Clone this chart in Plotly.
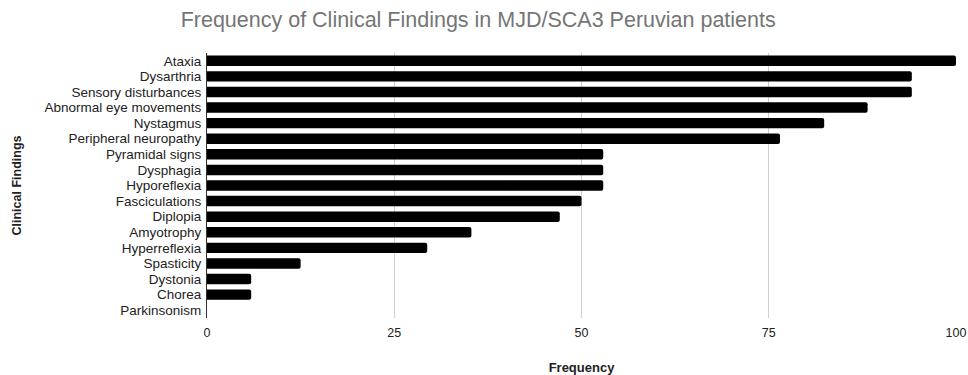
import plotly.graph_objects as go

findings = ["Ataxia", "Dysarthria", "Sensory disturbances", "Abnormal eye movements",
            "Nystagmus", "Peripheral neuropathy", "Pyramidal signs", "Dysphagia",
            "Hyporeflexia", "Fasciculations", "Diplopia", "Amyotrophy", "Hyperreflexia",
            "Spasticity", "Dystonia", "Chorea", "Parkinsonism"]
frequency = [100, 94.1, 94.1, 88.2, 82.4, 76.5, 52.9, 52.9, 52.9, 50.0, 47.1,
             35.3, 29.4, 12.5, 5.9, 5.9, 0]
x_ticks = [0, 25, 50, 75, 100]

FONT = "Arial, Liberation Sans, sans-serif"

fig = go.Figure(go.Bar(
    x=frequency, y=findings, orientation="h",
    marker=dict(color="#000000", cornerradius=2, line=dict(width=0)),
))

fig.update_layout(
    width=968, height=375,
    margin=dict(l=207, r=12, t=53, b=57, autoexpand=False),
    paper_bgcolor="white", plot_bgcolor="white",
    font=dict(family=FONT, color="#222222", size=13),
    title=dict(text="Frequency of Clinical Findings in MJD/SCA3 Peruvian patients",
               x=0.494, xanchor="center", y=0.947, yanchor="middle",
               font=dict(size=21.5, color="#757575", family=FONT)),
    bargap=0.33,
    showlegend=False,
)
fig.update_xaxes(
    range=[0, 100], tickvals=x_ticks, ticktext=[str(v) for v in x_ticks],
    showgrid=True, gridcolor="#d0d0d0", gridwidth=1, zeroline=False,
    showline=False, ticks="", tickfont=dict(size=12.5, color="#222222"),
    ticklabelstandoff=5, automargin=False,
    title=dict(text="<b>Frequency</b>", font=dict(size=13, color="#222222"), standoff=27),
)
fig.update_yaxes(
    autorange="reversed", showgrid=False, zeroline=False,
    tickmode="array", tickvals=findings, ticktext=findings,
    showline=True, linecolor="#333333", linewidth=1, ticks="",
    tickfont=dict(size=13.5, color="#222222"), ticklabelstandoff=2, automargin=True,
    title=dict(text="<b>Clinical Findings</b>", font=dict(size=12.5, color="#222222"), standoff=20),
)

fig.write_html(
    "out.html",
    config={"displayModeBar": False},
    post_script="document.body.style.margin='0';document.body.style.overflow='hidden';",
)
